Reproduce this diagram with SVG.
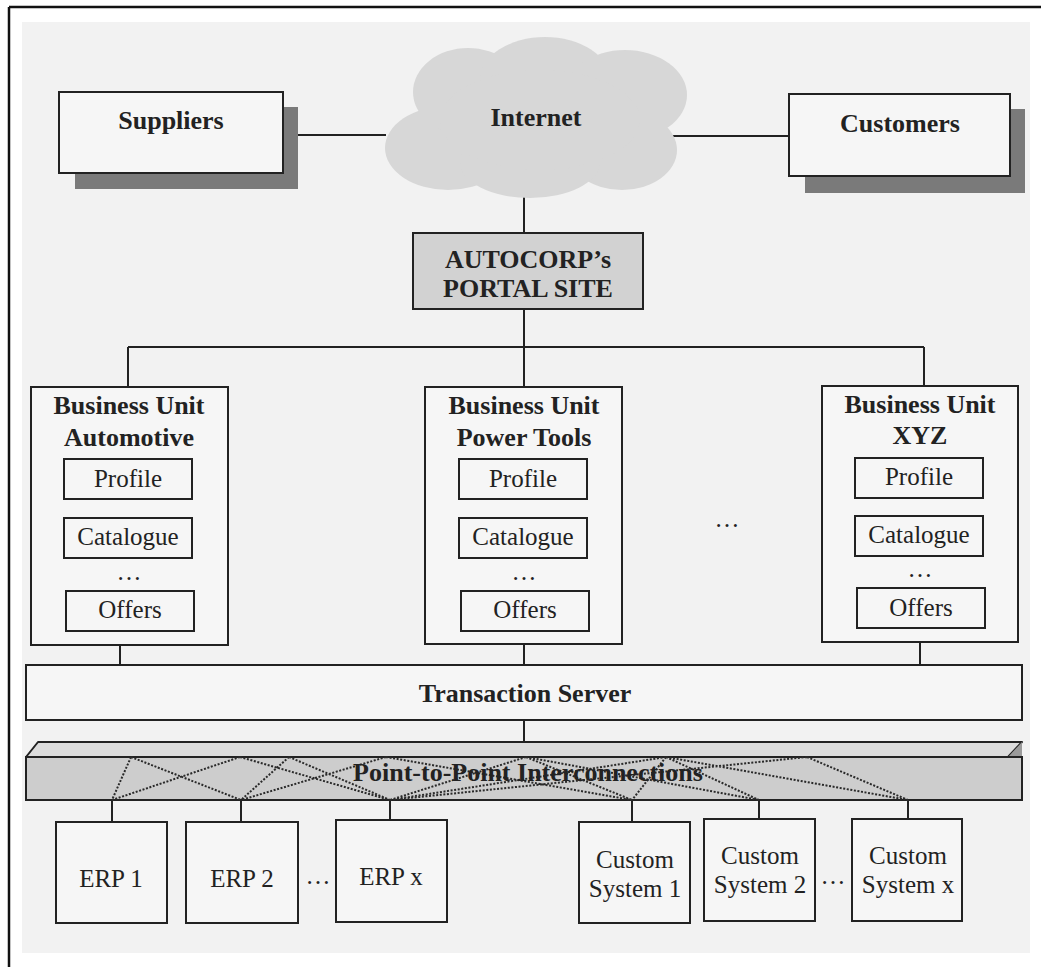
<svg xmlns="http://www.w3.org/2000/svg" width="1041" height="967" viewBox="0 0 1041 967">
  <defs>
    <style>
      .bx { fill: #f6f6f6; stroke: #222; stroke-width: 2; }
      .shadow { fill: #7a7a7a; }
      .ln { stroke: #222; stroke-width: 2; fill: none; }
      .dot { stroke: #2a2a2a; stroke-width: 2; fill: none; stroke-dasharray: 2 1.6; }
      .tb { font-family: "Liberation Serif", "Times New Roman", serif; font-weight: bold; font-size: 26px; fill: #222; text-anchor: middle; }
      .tn { font-family: "Liberation Serif", "Times New Roman", serif; font-size: 25px; fill: #222; text-anchor: middle; }
    </style>
  </defs>

  <!-- page background and frame -->
  <rect x="0" y="0" width="1041" height="967" fill="#ffffff"/>
  <rect x="22" y="22" width="1008" height="931" fill="#f2f2f2"/>
  <path d="M9 7 H1041 M9 7 V967" stroke="#111" stroke-width="2.5" fill="none"/>

  <!-- connectors -->
  <g id="connectors">
    <path class="ln" d="M283 135 H386 M658 136 H789"/>
    <path class="ln" d="M524 195 V233"/>
    <path class="ln" d="M524 309 V347 M128 347 H924 M128 347 V387 M524 347 V387 M924 347 V387"/>
    <path class="ln" d="M120 645 V665 M524 644 V665 M920 642 V665"/>
    <path class="ln" d="M524 720 V742"/>
    <path class="ln" d="M112 800 V822 M241 800 V822 M390 800 V820 M632 800 V822 M759 800 V819 M908 800 V819"/>
  </g>

  <!-- Internet cloud -->
  <g id="internet">
    <g fill="#d7d7d7">
      <ellipse cx="448" cy="148" rx="63" ry="42"/>
      <ellipse cx="468" cy="92" rx="55" ry="44"/>
      <ellipse cx="545" cy="80" rx="65" ry="43"/>
      <ellipse cx="625" cy="95" rx="62" ry="45"/>
      <ellipse cx="622" cy="150" rx="55" ry="40"/>
      <ellipse cx="530" cy="162" rx="70" ry="36"/>
      <ellipse cx="540" cy="120" rx="100" ry="50"/>
    </g>
    <text class="tb" x="536" y="126">Internet</text>
  </g>

  <!-- Suppliers -->
  <g id="suppliers">
    <rect class="shadow" x="75" y="107" width="223" height="82"/>
    <rect class="bx" x="59" y="92" width="224" height="81"/>
    <text class="tb" x="171" y="129">Suppliers</text>
  </g>

  <!-- Customers -->
  <g id="customers">
    <rect class="shadow" x="805" y="109" width="220" height="84"/>
    <rect class="bx" x="789" y="94" width="221" height="82"/>
    <text class="tb" x="900" y="132">Customers</text>
  </g>

  <!-- Portal site -->
  <g id="portal">
    <rect x="413" y="233" width="230" height="76" fill="#d2d2d2" stroke="#222" stroke-width="2"/>
    <text class="tb" x="528" y="268">AUTOCORP’s</text>
    <text class="tb" x="528" y="297">PORTAL SITE</text>
  </g>

  <!-- Business unit: Automotive -->
  <g id="bu-automotive">
    <rect class="bx" x="31" y="387" width="197" height="258"/>
    <text class="tb" x="129" y="414">Business Unit</text>
    <text class="tb" x="129" y="446">Automotive</text>
    <rect class="bx" x="64" y="459" width="128" height="40"/>
    <text class="tn" x="128" y="487">Profile</text>
    <rect class="bx" x="64" y="518" width="128" height="40"/>
    <text class="tn" x="128" y="545">Catalogue</text>
    <text class="tn" x="129" y="580">…</text>
    <rect class="bx" x="66" y="591" width="128" height="40"/>
    <text class="tn" x="130" y="618">Offers</text>
  </g>

  <!-- Business unit: Power Tools -->
  <g id="bu-powertools">
    <rect class="bx" x="425" y="387" width="197" height="257"/>
    <text class="tb" x="524" y="414">Business Unit</text>
    <text class="tb" x="524" y="446">Power Tools</text>
    <rect class="bx" x="459" y="459" width="128" height="40"/>
    <text class="tn" x="523" y="487">Profile</text>
    <rect class="bx" x="459" y="518" width="128" height="40"/>
    <text class="tn" x="523" y="545">Catalogue</text>
    <text class="tn" x="524" y="580">…</text>
    <rect class="bx" x="461" y="591" width="128" height="40"/>
    <text class="tn" x="525" y="618">Offers</text>
  </g>

  <text class="tn" x="727" y="527">…</text>

  <!-- Business unit: XYZ -->
  <g id="bu-xyz">
    <rect class="bx" x="822" y="386" width="196" height="256"/>
    <text class="tb" x="920" y="413">Business Unit</text>
    <text class="tb" x="920" y="444">XYZ</text>
    <rect class="bx" x="855" y="458" width="128" height="40"/>
    <text class="tn" x="919" y="485">Profile</text>
    <rect class="bx" x="855" y="516" width="128" height="40"/>
    <text class="tn" x="919" y="543">Catalogue</text>
    <text class="tn" x="920" y="577">…</text>
    <rect class="bx" x="857" y="588" width="128" height="40"/>
    <text class="tn" x="921" y="616">Offers</text>
  </g>

  <!-- Transaction server -->
  <g id="transaction-server">
    <rect class="bx" x="26" y="665" width="996" height="55"/>
    <text class="tb" x="525" y="702">Transaction Server</text>
  </g>

  <!-- Point-to-point interconnection bar -->
  <g id="interconnections">
    <polygon points="26,757 38,742 1022,742 1008,757" fill="#dcdcdc" stroke="#222" stroke-width="2" stroke-linejoin="round"/>
    <polygon points="1008,757 1022,742 1022,757" fill="#9a9a9a"/>
    <rect x="26" y="757" width="996" height="43" fill="#cdcdcd" stroke="#222" stroke-width="2"/>
    <path class="dot" d="M131 757 L112 800 M131 757 L241 800 M240 757 L112 800 M240 757 L390 800 M289 757 L241 800 M289 757 L390 800 M386 757 L241 800 M386 757 L632 800 M526 757 L390 800 M666 757 L390 800 M526 757 L632 800 M526 757 L759 800 M666 757 L632 800 M666 757 L759 800 M666 757 L908 800 M807 757 L390 800 M807 757 L908 800"/>
    <text class="tb" x="528" y="781">Point-to-Point Interconnections</text>
  </g>

  <!-- ERP systems -->
  <g id="erp-1">
    <rect class="bx" x="56" y="822" width="111" height="101"/>
    <text class="tn" x="111" y="887">ERP 1</text>
  </g>
  <g id="erp-2">
    <rect class="bx" x="186" y="822" width="112" height="101"/>
    <text class="tn" x="242" y="887">ERP 2</text>
  </g>
  <text class="tn" x="318" y="884">…</text>
  <g id="erp-x">
    <rect class="bx" x="336" y="820" width="111" height="102"/>
    <text class="tn" x="391" y="885">ERP x</text>
  </g>

  <!-- Custom systems -->
  <g id="custom-1">
    <rect class="bx" x="579" y="822" width="111" height="101"/>
    <text class="tn" x="635" y="868">Custom</text>
    <text class="tn" x="635" y="897">System 1</text>
  </g>
  <g id="custom-2">
    <rect class="bx" x="704" y="819" width="111" height="102"/>
    <text class="tn" x="760" y="864">Custom</text>
    <text class="tn" x="760" y="893">System 2</text>
  </g>
  <text class="tn" x="833" y="884">…</text>
  <g id="custom-x">
    <rect class="bx" x="852" y="819" width="110" height="102"/>
    <text class="tn" x="908" y="864">Custom</text>
    <text class="tn" x="908" y="893">System x</text>
  </g>
</svg>
